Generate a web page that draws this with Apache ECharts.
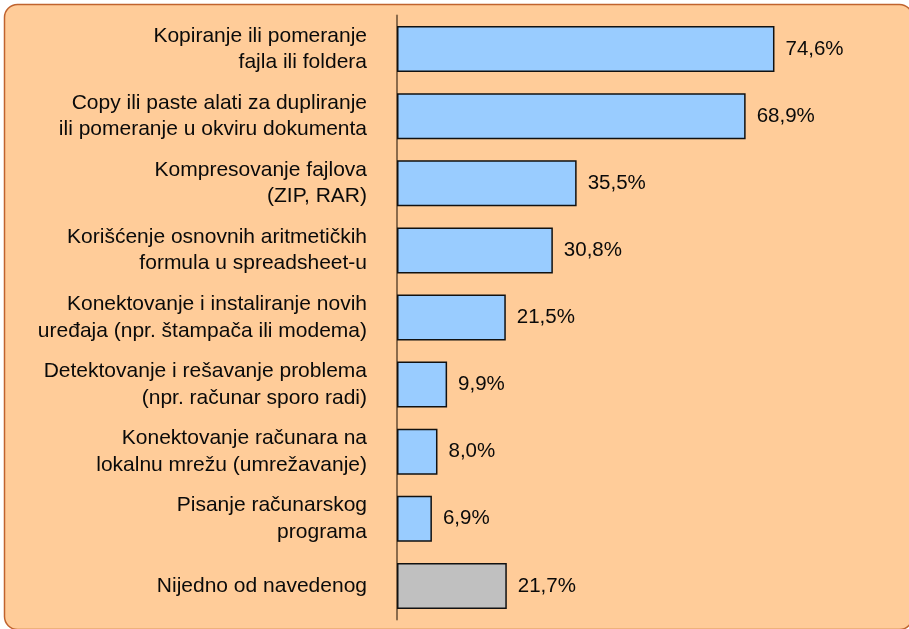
<!DOCTYPE html>
<html>
<head>
<meta charset="utf-8">
<script src="https://cdn.jsdelivr.net/npm/echarts@6/dist/echarts.min.js"></script>
<style>
  html, body { margin: 0; padding: 0; background: #ffffff; }
  #chart { width: 909px; height: 629px; }
</style>
</head>
<body>
<div id="chart"></div>
<script>
// Survey categories (top to bottom) and their shares in percent
const categories = [
  'Kopiranje ili pomeranje\nfajla ili foldera',
  'Copy ili paste alati za dupliranje\nili pomeranje u okviru dokumenta',
  'Kompresovanje fajlova\n(ZIP, RAR)',
  'Korišćenje osnovnih aritmetičkih\nformula u spreadsheet-u',
  'Konektovanje i instaliranje novih\nuređaja (npr. štampača ili modema)',
  'Detektovanje i rešavanje problema\n(npr. računar sporo radi)',
  'Konektovanje računara na\nlokalnu mrežu (umrežavanje)',
  'Pisanje računarskog\nprograma',
  'Nijedno od navedenog'
];
const values = [74.6, 68.9, 35.5, 30.8, 21.5, 9.9, 8.0, 6.9, 21.7];
// The "none of the above" answer is drawn in gray
const noneCategory = 'Nijedno od navedenog';

const BLUE = '#99CCFF';
const GRAY = '#C0C0C0';
const FONT = '"Liberation Sans", Arial, sans-serif';

const chart = echarts.init(document.getElementById('chart'), null, { renderer: 'canvas' });

const seriesData = values.map((v, i) => ({
  value: v,
  itemStyle: { color: categories[i] === noneCategory ? GRAY : BLUE }
}));

chart.setOption({
  backgroundColor: '#ffffff',
  animation: false,
  graphic: [{
    type: 'rect',
    z: -10,
    silent: true,
    shape: { x: 4.5, y: 4.5, width: 908, height: 625, r: 13 },
    style: { fill: '#FFCC99', stroke: '#C0632E', lineWidth: 1.5 }
  }],
  grid: { left: 397, right: 6, top: 15.5, bottom: 9.5, containLabel: false },
  xAxis: {
    type: 'value',
    min: 0,
    max: 100,
    show: false
  },
  yAxis: {
    type: 'category',
    data: categories,
    inverse: true,
    axisLine: { show: true, lineStyle: { color: '#8B6B4B', width: 2 } },
    axisTick: { show: false },
    axisLabel: {
      margin: 30,
      color: '#0a0a0a',
      fontFamily: FONT,
      fontSize: 21,
      lineHeight: 26.5,
      align: 'right'
    }
  },
  series: [{
    type: 'bar',
    data: seriesData,
    barWidth: 46,
    itemStyle: { borderColor: '#111111', borderWidth: 1.5 },
    label: {
      show: true,
      position: 'right',
      distance: 11,
      color: '#0a0a0a',
      fontFamily: FONT,
      fontSize: 20.5,
      formatter: p => p.value.toFixed(1).replace('.', ',') + '%'
    }
  }]
});
</script>
</body>
</html>
